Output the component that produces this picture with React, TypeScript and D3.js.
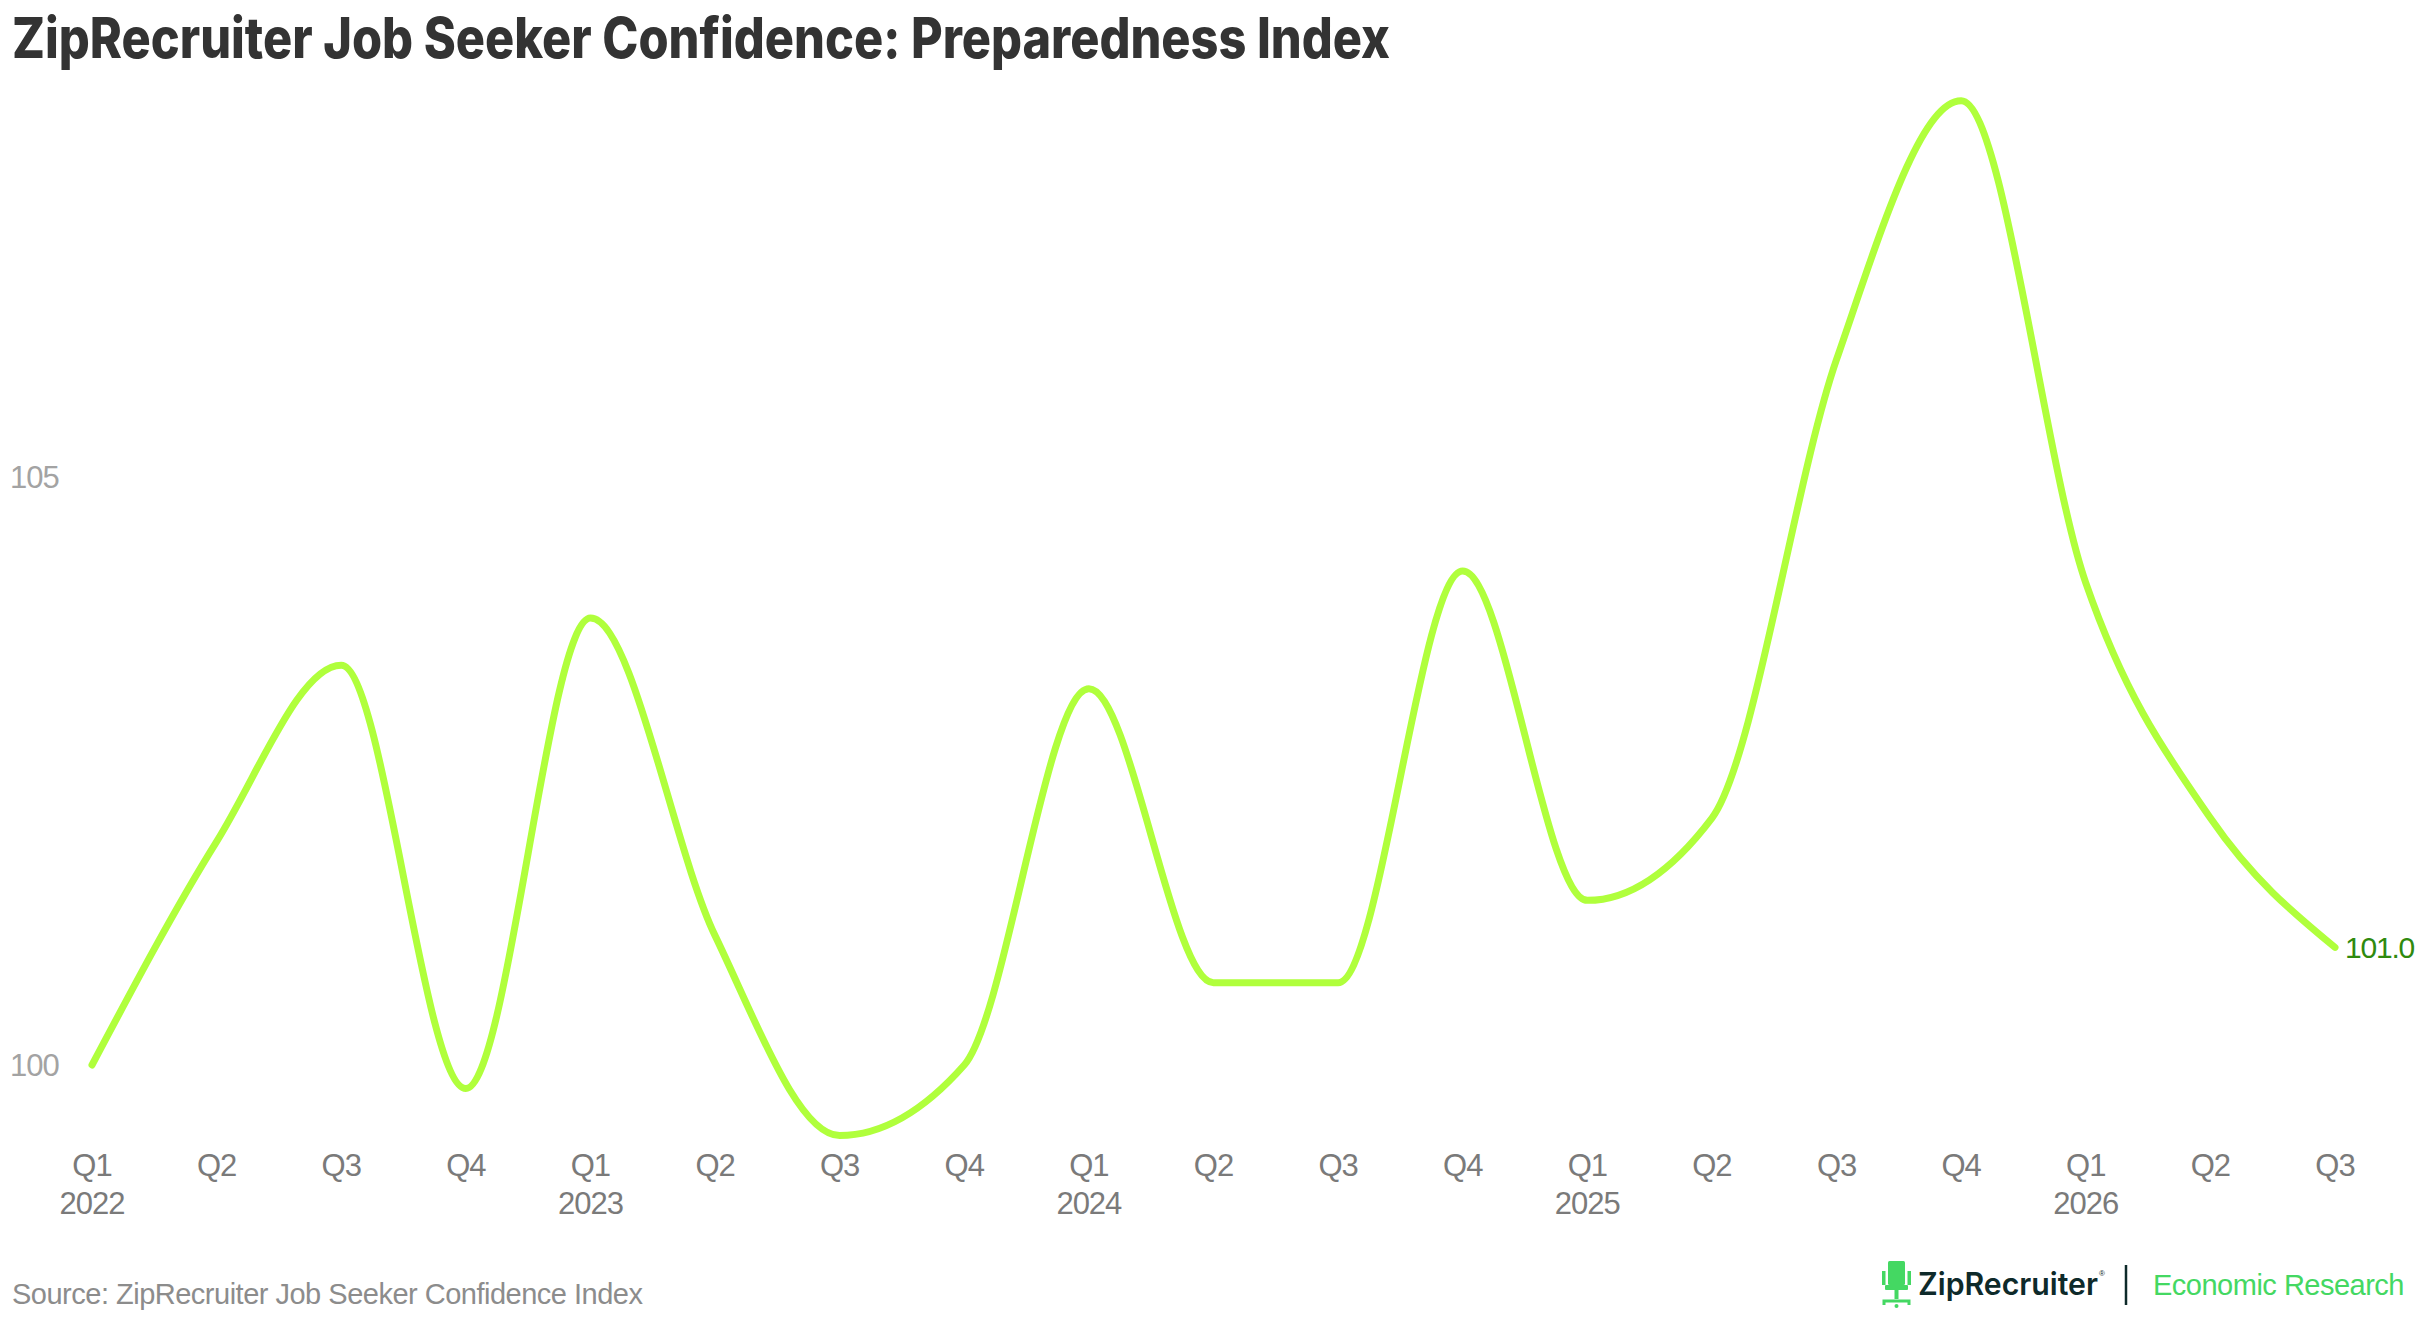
import * as d3 from "d3";
import { useRef, useEffect } from "react";

// quarterly preparedness index, Q1 2022 .. Q3 2026
const quarters = ["Q1", "Q2", "Q3", "Q4", "Q1", "Q2", "Q3", "Q4", "Q1", "Q2", "Q3", "Q4", "Q1", "Q2", "Q3", "Q4", "Q1", "Q2", "Q3"];
const years = ["2022", "", "", "", "2023", "", "", "", "2024", "", "", "", "2025", "", "", "", "2026", "", ""];
const preparedness = [100.0, 101.9, 103.4, 99.8, 103.8, 101.1, 99.4, 100.0, 103.2, 100.7, 100.7, 104.2, 101.4, 102.1, 106.0, 108.2, 104.1, 102.1, 101.0];
const yTicks = [100, 105];

const W = 2420;
const H = 1320;
const FONT = "'Liberation Sans', Arial, sans-serif";

export default function App() {
  const svgRef = useRef<SVGSVGElement | null>(null);

  useEffect(() => {
    const svg = d3.select(svgRef.current);
    svg.selectAll("*").remove();

    const x = d3.scaleLinear().domain([0, preparedness.length - 1]).range([92, 2335]);
    const y = d3.scaleLinear().domain([100, 105]).range([1065, 477]);

    svg.append("rect").attr("width", W).attr("height", H).attr("fill", "#fff");

    // title
    svg.append("text")
      .attr("x", 12)
      .attr("y", 58)
      .attr("font-family", "Inter, 'Liberation Sans', sans-serif")
      .attr("font-weight", 800)
      .attr("font-size", 56)
      .attr("fill", "#333333")
      .attr("textLength", 1378)
      .attr("lengthAdjust", "spacingAndGlyphs")
      .text("ZipRecruiter Job Seeker Confidence: Preparedness Index");

    // y ticks (no grid)
    svg.append("g")
      .selectAll("text")
      .data(yTicks)
      .join("text")
      .attr("x", 10)
      .attr("y", d => y(d))
      .attr("dy", "0.36em")
      .attr("font-family", FONT)
      .attr("font-size", 31)
      .attr("fill", "#a3a3a3")
      .attr("letter-spacing", -1)
      .text(d => d);

    // x labels: quarter + year
    const xl = svg.append("g")
      .attr("font-family", FONT)
      .attr("font-size", 31)
      .attr("fill", "#7a7a7a")
      .attr("text-anchor", "middle")
      .attr("letter-spacing", -1);

    xl.selectAll("text.q")
      .data(quarters)
      .join("text")
      .attr("class", "q")
      .attr("x", (_, i) => x(i))
      .attr("y", 1176)
      .text(d => d);

    xl.selectAll("text.yr")
      .data(years.map((yr, i) => ({ yr, i })).filter(d => d.yr))
      .join("text")
      .attr("class", "yr")
      .attr("x", d => x(d.i))
      .attr("y", 1214)
      .text(d => d.yr);

    // the line
    const line = d3.line<number>()
      .x((_, i) => x(i))
      .y(d => y(d))
      .curve(d3.curveMonotoneX);

    svg.append("path")
      .datum(preparedness)
      .attr("d", line)
      .attr("fill", "none")
      .attr("stroke", "#b0ff3c")
      .attr("stroke-width", 7)
      .attr("stroke-linecap", "round")
      .attr("stroke-linejoin", "round");

    // end label
    const last = preparedness.length - 1;
    svg.append("text")
      .attr("x", x(last) + 10)
      .attr("y", y(preparedness[last]))
      .attr("dy", "0.36em")
      .attr("font-family", FONT)
      .attr("font-size", 30)
      .attr("fill", "#2f8a0e")
      .attr("letter-spacing", -1.2)
      .text(preparedness[last].toFixed(1));

    // source
    svg.append("text")
      .attr("x", 12)
      .attr("y", 1304)
      .attr("font-family", FONT)
      .attr("font-size", 29)
      .attr("fill", "#8c8c8c")
      .attr("letter-spacing", -0.5)
      .text("Source: ZipRecruiter Job Seeker Confidence Index");

    // logo: chair + wordmark | Economic Research
    const logo = svg.append("g").attr("transform", "translate(1882,1261)");
    const green = "#44d862";
    logo.append("rect").attr("x", 6).attr("y", 0).attr("width", 17).attr("height", 24).attr("rx", 1.5).attr("fill", green);
    logo.append("rect").attr("x", 0).attr("y", 10).attr("width", 3.5).attr("height", 14).attr("fill", green);
    logo.append("rect").attr("x", 25.5).attr("y", 10).attr("width", 3.5).attr("height", 14).attr("fill", green);
    logo.append("rect").attr("x", 3).attr("y", 24).attr("width", 23).attr("height", 5).attr("rx", 1).attr("fill", green);
    logo.append("rect").attr("x", 12.5).attr("y", 29).attr("width", 4).attr("height", 9).attr("fill", green);
    logo.append("path")
      .attr("d", "M2,44 L2,40 L27,40 L27,44")
      .attr("fill", "none")
      .attr("stroke", green)
      .attr("stroke-width", 3);
    logo.append("circle").attr("cx", 14.5).attr("cy", 45).attr("r", 2).attr("fill", green);

    svg.append("text")
      .attr("x", 1918)
      .attr("y", 1295)
      .attr("font-family", "Inter, 'Liberation Sans', sans-serif")
      .attr("font-weight", 600)
      .attr("font-size", 31)
      .attr("fill", "#0e2a2a")
      .attr("textLength", 180)
      .attr("lengthAdjust", "spacingAndGlyphs")
      .text("ZipRecruiter");
    svg.append("text")
      .attr("x", 2099)
      .attr("y", 1276)
      .attr("font-family", FONT)
      .attr("font-size", 8)
      .attr("fill", "#0e2a2a")
      .text("®");

    svg.append("line")
      .attr("x1", 2126).attr("x2", 2126)
      .attr("y1", 1265).attr("y2", 1305)
      .attr("stroke", "#0e2a2a")
      .attr("stroke-width", 2.5);

    svg.append("text")
      .attr("x", 2153)
      .attr("y", 1295)
      .attr("font-family", FONT)
      .attr("font-size", 29)
      .attr("fill", green)
      .attr("letter-spacing", -0.5)
      .text("Economic Research");
  }, []);

  return (
    <svg
      ref={svgRef}
      width={W}
      height={H}
      style={{ display: "block", position: "absolute", left: 0, top: 0 }}
    />
  );
}
